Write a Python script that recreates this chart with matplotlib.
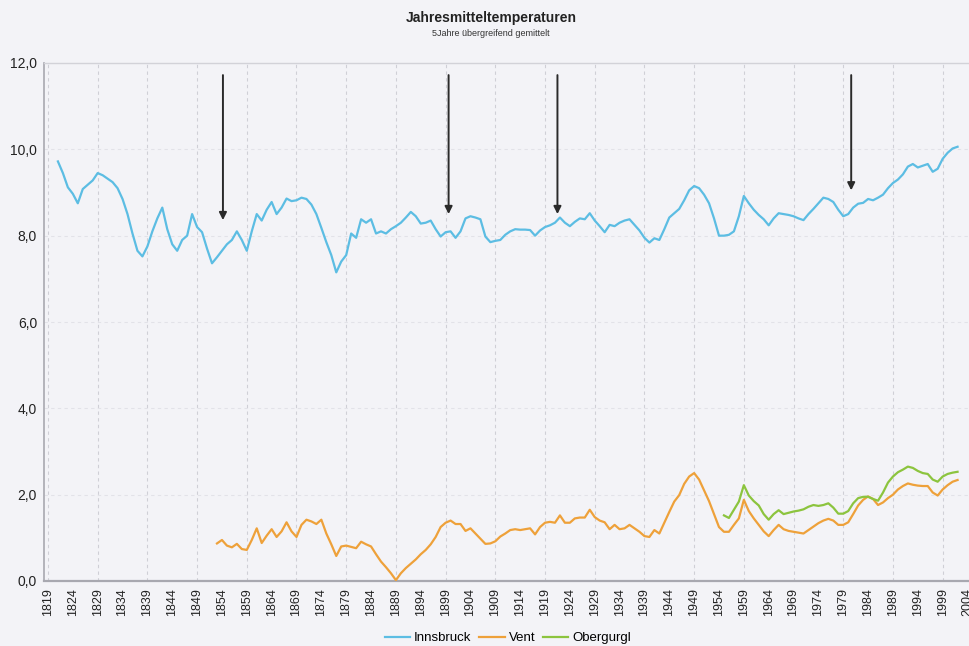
import numpy as np
import matplotlib
matplotlib.use("Agg")
import matplotlib.pyplot as plt

plt.rcParams['font.family'] = ['Liberation Sans', 'DejaVu Sans']

# ---------------- data ----------------
innsbruck_start = 1821
innsbruck = [
    9.72, 9.45, 9.12, 8.97, 8.75, 9.08, 9.18, 9.28, 9.45, 9.40,   # 1821-1830
    9.32, 9.24, 9.10, 8.85, 8.50, 8.05, 7.65, 7.52, 7.75, 8.10,   # 1831-1840
    8.40, 8.65, 8.15, 7.80, 7.65, 7.90, 8.00, 8.50, 8.20, 8.08,   # 1841-1850
    7.70, 7.36, 7.50, 7.65, 7.80, 7.90, 8.10, 7.90, 7.65, 8.10,   # 1851-1860
    8.50, 8.35, 8.60, 8.78, 8.50, 8.65, 8.86, 8.80, 8.82, 8.88,   # 1861-1870
    8.85, 8.72, 8.50, 8.18, 7.85, 7.55, 7.15, 7.40, 7.55, 8.05,   # 1871-1880
    7.95, 8.38, 8.30, 8.38, 8.05, 8.10, 8.05, 8.15, 8.22, 8.30,   # 1881-1890
    8.42, 8.55, 8.45, 8.28, 8.30, 8.35, 8.15, 7.98, 8.08, 8.10,   # 1891-1900
    7.95, 8.10, 8.40, 8.45, 8.42, 8.38, 7.98, 7.85, 7.88, 7.90,   # 1901-1910
    8.02, 8.10, 8.15, 8.14, 8.14, 8.13, 8.00, 8.12, 8.20, 8.24,   # 1911-1920
    8.30, 8.42, 8.30, 8.22, 8.32, 8.40, 8.38, 8.52, 8.35, 8.22,   # 1921-1930
    8.08, 8.25, 8.22, 8.30, 8.35, 8.38, 8.25, 8.12, 7.95, 7.84,   # 1931-1940
    7.94, 7.90, 8.15, 8.42, 8.52, 8.62, 8.82, 9.05, 9.15, 9.10,   # 1941-1950
    8.95, 8.75, 8.40, 8.00, 8.00, 8.02, 8.10, 8.45, 8.92, 8.75,   # 1951-1960
    8.60, 8.48, 8.38, 8.24, 8.40, 8.52, 8.50, 8.48, 8.45, 8.40,   # 1961-1970
    8.36, 8.50, 8.62, 8.75, 8.88, 8.85, 8.78, 8.60, 8.45, 8.50,   # 1971-1980
    8.65, 8.74, 8.76, 8.85, 8.82, 8.88, 8.95, 9.10, 9.22, 9.30,   # 1981-1990
    9.42, 9.60, 9.66, 9.58, 9.62, 9.66, 9.48, 9.55, 9.78, 9.92,   # 1991-2000
    10.02, 10.06,                                                 # 2001-2002
]

vent_start = 1853
vent = [
    0.87, 0.95, 0.82, 0.78, 0.86, 0.74, 0.72,                     # 1853-1859
    0.95, 1.22, 0.88, 1.05, 1.20, 1.02, 1.15, 1.36, 1.15, 1.02,   # 1860-1869
    1.30, 1.42, 1.38, 1.32, 1.42, 1.10, 0.85, 0.58, 0.80, 0.82,   # 1870-1879
    0.79, 0.76, 0.91, 0.85, 0.80, 0.62, 0.45, 0.32, 0.18, 0.02,   # 1880-1889
    0.18, 0.30, 0.40, 0.50, 0.62, 0.72, 0.85, 1.02, 1.25, 1.35,   # 1890-1899
    1.40, 1.32, 1.32, 1.16, 1.22, 1.10, 0.98, 0.86, 0.87, 0.92,   # 1900-1909
    1.03, 1.10, 1.18, 1.20, 1.18, 1.20, 1.22, 1.08, 1.25, 1.35,   # 1910-1919
    1.37, 1.35, 1.52, 1.35, 1.35, 1.45, 1.47, 1.47, 1.65, 1.48,   # 1920-1929
    1.40, 1.36, 1.20, 1.30, 1.20, 1.22, 1.30, 1.22, 1.14, 1.04,   # 1930-1939
    1.02, 1.18, 1.10, 1.35, 1.60, 1.84, 1.99, 2.25, 2.42, 2.50,   # 1940-1949
    2.35, 2.10, 1.85, 1.55, 1.25, 1.14, 1.14, 1.30, 1.45, 1.88,   # 1950-1959
    1.62, 1.45, 1.30, 1.15, 1.04, 1.18, 1.30, 1.20, 1.16, 1.14,   # 1960-1969
    1.12, 1.10, 1.18, 1.26, 1.34, 1.40, 1.44, 1.40, 1.30, 1.30,   # 1970-1979
    1.36, 1.55, 1.75, 1.88, 1.96, 1.90, 1.76, 1.82, 1.92, 2.00,   # 1980-1989
    2.12, 2.20, 2.26, 2.23, 2.21, 2.20, 2.20, 2.05, 1.98, 2.12,   # 1990-1999
    2.22, 2.30, 2.34,                                             # 2000-2002
]

obergurgl_start = 1955
obergurgl = [
    1.52, 1.46, 1.65, 1.84, 2.22,                                 # 1955-1959
    1.98, 1.85, 1.75, 1.55, 1.42, 1.55, 1.64, 1.55, 1.58, 1.61,   # 1960-1969
    1.63, 1.66, 1.72, 1.76, 1.74, 1.76, 1.80, 1.70, 1.56, 1.56,   # 1970-1979
    1.62, 1.80, 1.92, 1.95, 1.95, 1.90, 1.86, 2.05, 2.28, 2.42,   # 1980-1989
    2.52, 2.58, 2.65, 2.62, 2.55, 2.50, 2.48, 2.35, 2.30, 2.42,   # 1990-1999
    2.48, 2.51, 2.53,                                             # 2000-2002
]

series_names = ["Innsbruck", "Vent", "Obergurgl"]
series_colors = ["#5cbde3", "#eea13a", "#8cc43e"]

arrow_years = [1854.2, 1899.6, 1921.5, 1980.6]
arrow_tips = [8.36, 8.50, 8.50, 9.05]
arrow_top = 11.72

tick_years = list(range(1819, 2005, 5))
y_ticks = [0, 2, 4, 6, 8, 10, 12]

title = "Jahresmitteltemperaturen"
subtitle = "5Jahre übergreifend gemittelt"

# ---------------- figure ----------------
bg = "#f3f3f7"
fig = plt.figure(figsize=(9.69, 6.46), dpi=100, facecolor=bg)
ax = fig.add_axes([44/969, 1 - 581/646, 1 - 44/969, (581 - 63)/646])
ax.set_facecolor(bg)

xs = [np.arange(innsbruck_start, innsbruck_start + len(innsbruck)),
      np.arange(vent_start, vent_start + len(vent)),
      np.arange(obergurgl_start, obergurgl_start + len(obergurgl))]
ys = [innsbruck, vent, obergurgl]
for x, y, name, c in zip(xs, ys, series_names, series_colors):
    ax.plot(x, y, color=c, lw=1.6, label=name, solid_joinstyle='round', zorder=3)

# arrows
for yr, tip in zip(arrow_years, arrow_tips):
    ax.annotate("", xy=(yr, tip), xytext=(yr, arrow_top),
                arrowprops=dict(arrowstyle='-|>', color='#2a2a2a', lw=1.4,
                                mutation_scale=11, shrinkA=0, shrinkB=0),
                zorder=4)

ax.set_xlim(1818.2, 2004.3)
ax.set_ylim(0, 12)

# grid
for gx in range(1819, 2005, 10):
    ax.axvline(gx, color='#cfcfd6', lw=0.8, ls=(0, (3, 3)), zorder=1)
for gy in y_ticks[1:-1]:
    ax.axhline(gy, color='#e2e2e8', lw=0.8, ls=(0, (3, 3)), zorder=1)

ax.set_xticks(tick_years)
ax.set_xticklabels([str(t) for t in tick_years], rotation=90, fontsize=9, color='#222222')
ax.set_yticks(y_ticks)
ax.set_yticklabels([f"{v:.1f}".replace('.', ',') for v in y_ticks], fontsize=10, color='#222222')
ax.tick_params(axis='x', length=0, pad=5)
ax.tick_params(axis='y', length=0, pad=5)

for s in ['right']:
    ax.spines[s].set_visible(False)
ax.spines['top'].set_color('#d2d2d8')
ax.spines['top'].set_linewidth(1.0)
ax.spines['left'].set_color('#a8a8b0')
ax.spines['left'].set_linewidth(1.2)
ax.spines['bottom'].set_color('#a8a8b0')
ax.spines['bottom'].set_linewidth(1.6)

fig.text(491/969, 1 - 18/646, title, ha='center', va='center',
         fontsize=10, fontweight='bold', color='#222222')
fig.text(491/969, 1 - 34/646, subtitle, ha='center', va='center',
         fontsize=6.5, color='#333333')

fig.legend(loc='center', bbox_to_anchor=(508/969, 8/646), ncol=3, frameon=False,
           fontsize=9.5, handlelength=1.9, handletextpad=0.3, columnspacing=0.6,
           borderpad=0.0)

fig.savefig("out.png", dpi=100, facecolor=bg)
